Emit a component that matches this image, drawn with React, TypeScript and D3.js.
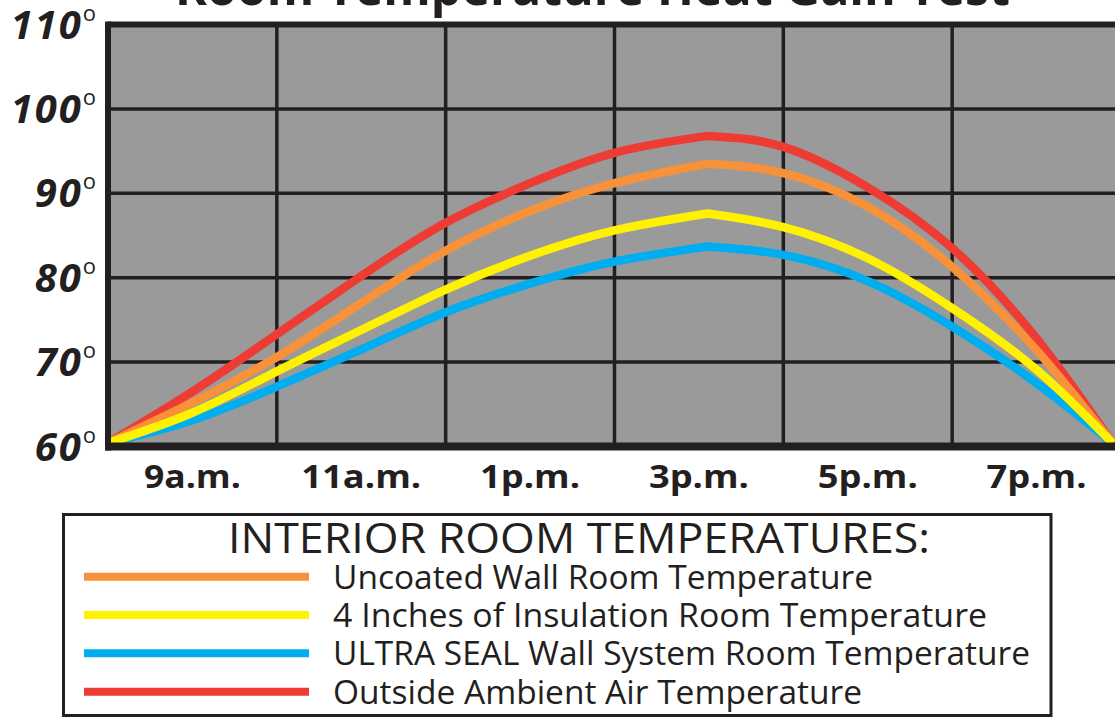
import React from 'react';
import * as d3 from 'd3';

// ---- data ----
const hours = [8, 9, 10, 11, 12, 13, 14, 15.1, 16, 17, 18, 19, 19.9];
const uncoated = [60.4, 65.2, 70.6, 77.0, 83.2, 87.9, 91.2, 93.5, 92.4, 88.4, 81.3, 71.4, 60.4];
const insulation = [60.4, 64.0, 68.9, 73.8, 78.6, 82.6, 85.6, 87.6, 86.0, 82.3, 76.4, 69.1, 60.4];
const ultraSeal = [60.4, 63.1, 67.1, 71.5, 75.9, 79.3, 81.9, 83.7, 82.7, 79.6, 74.2, 67.5, 60.4];
const outside = [60.4, 66.5, 73.3, 80.2, 86.5, 91.2, 94.8, 96.8, 95.5, 90.7, 83.5, 72.8, 60.4];
const peakIndex = 7;

const xTickHours = [9, 11, 13, 15, 17, 19];
const xTickLabels = ['9a.m.', '11a.m.', '1p.m.', '3p.m.', '5p.m.', '7p.m.'];
const xGridHours = [10, 12, 14, 16, 18];
const yTicks = [60, 70, 80, 90, 100, 110];
const yGrid = [70, 80, 90, 100];

const seriesNames = [
  'Uncoated Wall Room Temperature',
  '4 Inches of Insulation Room Temperature',
  'ULTRA SEAL Wall System Room Temperature',
  'Outside Ambient Air Temperature',
];
const seriesColors = ['#F7923A', '#FFF200', '#00AEEF', '#EE3B33'];
const seriesValues = [uncoated, insulation, ultraSeal, outside];
// drawing order: outer curves first so inner ones sit on top
const drawOrder = [3, 2, 0, 1];

const legendTitle = 'INTERIOR ROOM TEMPERATURES:';
const chartTitle = 'Room Temperature Heat Gain Test';

const W = 1115;
const H = 717;
const DARK = '#231f20';
const FONT = "'Open Sans', 'Noto Sans', sans-serif";

export default function App() {
  const x = d3.scaleLinear().domain([8, 20]).range([108, 1121]);
  const y = d3.scaleLinear().domain([60, 110]).range([446.5, 24.5]);

  const line = d3
    .line<[number, number]>()
    .x((d) => x(d[0]))
    .y((d) => y(d[1]))
    .curve(d3.curveNatural);

  const pathFor = (vals: number[]) => {
    const pts = hours.map((h, k) => [h, vals[k]] as [number, number]);
    const rise = line(pts.slice(0, peakIndex + 1)) || '';
    const fall = line(pts.slice(peakIndex)) || '';
    return rise + fall.replace(/^M/, 'L');
  };

  const xLabelWidths = [97, 120, 100, 100, 100, 100];
  const legendTextWidths = [540, 654, 697, 529];
  const legendY = d3.scaleLinear().domain([0, 3]).range([576.7, 691.7]);

  return (
    <svg
      width={W}
      height={H}
      viewBox={`0 0 ${W} ${H}`}
      style={{ position: 'absolute', left: 0, top: 0, background: '#fff' }}
    >
      {/* title (cut off at top) */}
      <text
        x={175}
        y={5}
        fontFamily={FONT}
        fontWeight={700}
        fontSize={52}
        fill={DARK}
        textLength={835}
        lengthAdjust="spacingAndGlyphs"
      >
        {chartTitle}
      </text>

      {/* plot background */}
      <rect x={x(8)} y={y(110)} width={x(20) - x(8)} height={y(60) - y(110)} fill="#9a9a9a" />

      {/* grid */}
      {xGridHours.map((h) => (
        <line key={'vx' + h} x1={x(h)} x2={x(h)} y1={y(110)} y2={y(60)} stroke={DARK} strokeWidth={3.5} />
      ))}
      {yGrid.map((v) => (
        <line key={'hy' + v} x1={x(8)} x2={x(20)} y1={y(v)} y2={y(v)} stroke={DARK} strokeWidth={3.5} />
      ))}

      {/* curves */}
      {drawOrder.map((i) => (
        <path
          key={'s' + i}
          d={pathFor(seriesValues[i])}
          fill="none"
          stroke={seriesColors[i]}
          strokeWidth={8.5}
          strokeLinejoin="round"
        />
      ))}

      {/* borders */}
      <line x1={x(8)} x2={x(20)} y1={y(110)} y2={y(110)} stroke={DARK} strokeWidth={6} />
      <line x1={x(8)} x2={x(8)} y1={y(110) - 3} y2={y(60) + 4} stroke={DARK} strokeWidth={6} />
      <line x1={x(8) - 3} x2={x(20)} y1={y(60)} y2={y(60)} stroke={DARK} strokeWidth={8} />

      {/* y labels */}
      {yTicks.map((v) => (
        <text
          key={'yl' + v}
          x={96}
          y={y(v) + 14}
          textAnchor="end"
          fontFamily={FONT}
          fontWeight={700}
          fontStyle="italic"
          fontSize={40}
          fill={DARK}
        >
          <tspan letterSpacing={2}>{String(v)}</tspan>
          <tspan fontSize={22} fontWeight={400} fontStyle="normal" dy={-18}>
            o
          </tspan>
        </text>
      ))}

      {/* x labels */}
      {xTickHours.map((h, i) => (
        <text
          key={'xl' + h}
          x={x(h)}
          y={488}
          textAnchor="middle"
          fontFamily={FONT}
          fontWeight={700}
          fontSize={33}
          fill={DARK}
          textLength={xLabelWidths[i]}
          lengthAdjust="spacingAndGlyphs"
        >
          {xTickLabels[i]}
        </text>
      ))}

      {/* legend */}
      <rect x={63.5} y={514.5} width={987.5} height={201} fill="#fff" stroke={DARK} strokeWidth={3} />
      <text
        x={228}
        y={553}
        fontFamily={FONT}
        fontSize={42}
        fill={DARK}
        textLength={702}
        lengthAdjust="spacingAndGlyphs"
      >
        {legendTitle}
      </text>
      {seriesNames.map((name, i) => (
        <g key={'lg' + i}>
          <line x1={84} x2={309} y1={legendY(i)} y2={legendY(i)} stroke={seriesColors[i]} strokeWidth={8} />
          <text
            x={333}
            y={legendY(i) + 12}
            fontFamily={FONT}
            fontSize={32}
            fill={DARK}
            textLength={legendTextWidths[i]}
            lengthAdjust="spacingAndGlyphs"
          >
            {name}
          </text>
        </g>
      ))}
    </svg>
  );
}
